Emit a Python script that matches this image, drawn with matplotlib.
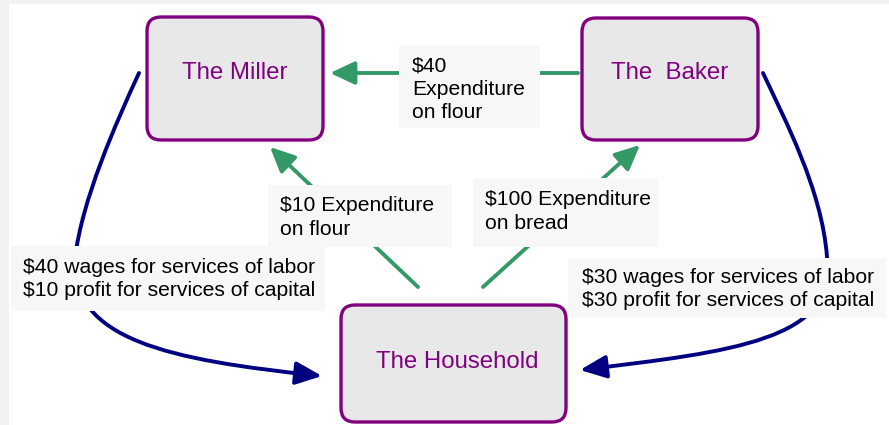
"""
circular flow: miller, baker, household
"""

import matplotlib.pyplot as plt
from matplotlib.patches import FancyBboxPatch, Rectangle, FancyArrowPatch
from matplotlib.path import Path

plt.rcParams['font.family'] = ['Liberation Sans', 'DejaVu Sans']

# nodes of the diagram
node_names = ["The Miller", "The  Baker", "The Household"]
node_boxes = [(147, 17, 323, 140), (582, 18, 758, 140), (341, 305, 566, 422)]  # x0, y0, x1, y1 in px
node_text_xy = [(235, 73), (670, 73), (457, 362)]

# money flows (labels)
flow_labels = [
    "$40\nExpenditure\non flour",
    "$10 Expenditure\non flour",
    "$100 Expenditure\non bread",
    "$40 wages for services of labor\n$10 profit for services of capital",
    "$30 wages for services of labor\n$30 profit for services of capital",
]
label_boxes = [(399, 46, 540, 128), (268, 185, 452, 247), (473, 178, 658, 247),
               (11, 246, 325, 311), (568, 258, 886, 318)]
label_text_xy = [(412, 56), (280, 196), (485, 190), (23, 258), (582, 268)]

# green straight arrows: (start, tip)
green_arrows = [((578, 73), (330, 73)), ((418, 287), (270, 147)), ((483, 287), (640, 145))]

# blue curved arrows as bezier control points
blue_left = [(139, 73), (115, 125), (82, 200), (75, 258), (70, 340), (170, 360), (322, 376)]
blue_right = [(763, 73), (785, 120), (822, 190), (827, 257), (840, 340), (730, 352), (580, 370)]

purple = "#800080"
green = "#339966"
navy = "#000080"

fig = plt.figure(figsize=(8.89, 4.25), dpi=100)
ax = fig.add_axes([0, 0, 1, 1])
ax.set_xlim(0, 889)
ax.set_ylim(425, 0)
ax.axis("off")

# light gray frame strips on left/top
ax.add_patch(Rectangle((0, 0), 9, 425, color="#f2f2f2", lw=0, zorder=0))
ax.add_patch(Rectangle((0, 0), 889, 4, color="#f2f2f2", lw=0, zorder=0))

for name, (x0, y0, x1, y1), (tx, ty) in zip(node_names, node_boxes, node_text_xy):
    box = FancyBboxPatch((x0, y0), x1 - x0, y1 - y0,
                         boxstyle="round,pad=0,rounding_size=14",
                         fc="#e8e8e8", ec=purple, lw=2.4, zorder=3)
    ax.add_patch(box)
    ax.text(tx, ty, name, color=purple, fontsize=17.3, ha="center", va="center", zorder=4)

for (a, b) in green_arrows:
    arr = FancyArrowPatch(a, b, arrowstyle="-|>,head_length=15,head_width=7",
                          color=green, lw=2.8, shrinkA=0, shrinkB=0, zorder=2)
    ax.add_patch(arr)

for pts in [blue_left, blue_right]:
    codes = [Path.MOVETO] + [Path.CURVE4] * (len(pts) - 1)
    arr = FancyArrowPatch(path=Path(pts, codes),
                          arrowstyle="-|>,head_length=16,head_width=7",
                          color=navy, lw=2.8, zorder=2)
    ax.add_patch(arr)

for txt, (x0, y0, x1, y1), (tx, ty) in zip(flow_labels, label_boxes, label_text_xy):
    ax.add_patch(Rectangle((x0, y0), x1 - x0, y1 - y0, fc="#f7f7f7", ec="none", zorder=5))
    ax.text(tx, ty, txt, fontsize=15.2, color="black", ha="left", va="top",
            linespacing=1.3, zorder=6)

fig.savefig("out.png", dpi=100)
